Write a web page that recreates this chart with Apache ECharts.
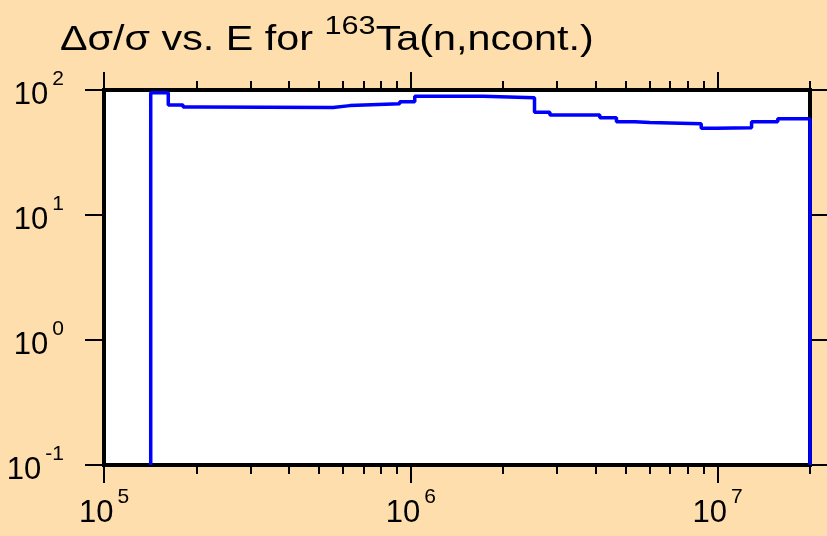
<!DOCTYPE html>
<html>
<head>
<meta charset="utf-8">
<script src="https://cdn.jsdelivr.net/npm/echarts@6/dist/echarts.min.js"></script>
<style>
html,body{margin:0;padding:0;background:#FDDEAC;}
#chart{width:827px;height:536px;}
</style>
</head>
<body>
<div id="chart"></div>
<script>
// Bin lower edges (eV) and relative uncertainty values (%)
var binEdges = [1.42e5, 1.62e5, 1.81e5, 2.05e5, 5.58e5, 6.33e5, 9.2e5, 1.03e6, 1.72e6, 2.53e6, 2.84e6, 4.13e6, 4.68e6, 5.37e6, 6.01e6, 8.84e6, 9.9e6, 1.29e7, 1.57e7];
var binValues = [95, 76, 73, 72.5, 75, 77.5, 80.5, 89, 86.5, 66.5, 63.2, 60, 55.8, 55, 53.7, 49.4, 50, 55.6, 58.8];
var xMin = 1e5, xMax = 2e7;
var yMin = 0.1, yMax = 100;
var xMajorTicks = [1e5, 1e6, 1e7];
var xMinorTicks = [2e5,3e5,4e5,5e5,6e5,7e5,8e5,9e5,2e6,3e6,4e6,5e6,6e6,7e6,8e6,9e6,2e7];
var titleMain = 'Δσ/σ vs. E for ';
var titleSup = '163';
var titleTail = 'Ta(n,ncont.)';

var stepData = [[binEdges[0], yMin]];
for (var i = 0; i < binEdges.length; i++) stepData.push([binEdges[i], binValues[i]]);
stepData.push([xMax, binValues[binValues.length - 1]]);
stepData.push([xMax, yMin]);

var lg = function (v) { return Math.log10(v); };
var supRich = {
  b: {fontFamily: 'Liberation Sans', fontSize: 31, color: '#000', lineHeight: 42, verticalAlign: 'bottom'},
  g: {fontFamily: 'Liberation Sans', fontSize: 6, color: '#000', width: 4, verticalAlign: 'top'},
  s: {fontFamily: 'Liberation Sans', fontSize: 21, color: '#000', verticalAlign: 'top'}
};
function powLabel(v) {
  var e = Math.log10(v);
  var r = Math.round(e);
  if (Math.abs(e - r) > 1e-6) return '';
  return '{b|10}{g| }{s|' + r + '}';
}
function tickAxis(pos, values, len) {
  return {
    type: 'value', position: pos, min: lg(xMin), max: lg(xMax), gridIndex: 0,
    axisLine: {show: false}, splitLine: {show: false}, axisLabel: {show: false},
    axisTick: {show: true, inside: false, length: len, customValues: values.map(lg), lineStyle: {color: '#000', width: 2}}
  };
}

var chart = echarts.init(document.getElementById('chart'), null, {renderer: 'canvas'});
chart.setOption({
  backgroundColor: '#FDDEAC',
  animation: false,
  graphic: [{
    type: 'text', left: 60, top: 14, scaleX: 1.18,
    style: {
      text: '{a|' + titleMain + '}{s|' + titleSup + '}{a|' + titleTail + '}',
      rich: {
        a: {fontFamily: 'Liberation Sans', fontSize: 35, fill: '#000', lineHeight: 44, verticalAlign: 'bottom'},
        s: {fontFamily: 'Liberation Sans', fontSize: 26, fill: '#000', verticalAlign: 'top'}
      }
    }
  }],
  grid: {left: 104, right: 17, top: 90, bottom: 71, show: true, backgroundColor: '#fff', borderColor: '#000', borderWidth: 4},
  xAxis: [
    {type: 'log', logBase: 10, min: xMin, max: xMax, position: 'bottom',
     axisLine: {show: false}, axisTick: {show: false}, splitLine: {show: false}, minorTick: {show: false},
     axisLabel: {show: true, margin: 22, formatter: powLabel, rich: supRich, showMinLabel: true, showMaxLabel: true, hideOverlap: false}},
    tickAxis('bottom', xMajorTicks, 18),
    tickAxis('bottom', xMinorTicks, 9),
    tickAxis('top', xMajorTicks, 18),
    tickAxis('top', xMinorTicks, 9)
  ],
  yAxis: [
    {type: 'log', logBase: 10, min: yMin, max: yMax, position: 'left',
     axisLine: {show: false}, splitLine: {show: false},
     axisTick: {show: true, inside: false, length: 19, lineStyle: {color: '#000', width: 2}},
     axisLabel: {show: true, margin: 40, formatter: powLabel, rich: supRich, showMinLabel: true, showMaxLabel: true}},
    {type: 'log', logBase: 10, min: yMin, max: yMax, position: 'right',
     axisLine: {show: false}, splitLine: {show: false},
     axisTick: {show: true, inside: false, length: 19, lineStyle: {color: '#000', width: 2}},
     axisLabel: {show: false}}
  ],
  series: [{
    type: 'line', xAxisIndex: 0, yAxisIndex: 0, step: 'end', data: stepData,
    showSymbol: false, symbol: 'none',
    lineStyle: {color: '#0000FF', width: 3.5}, clip: false, z: 5
  }]
});
</script>
</body>
</html>
